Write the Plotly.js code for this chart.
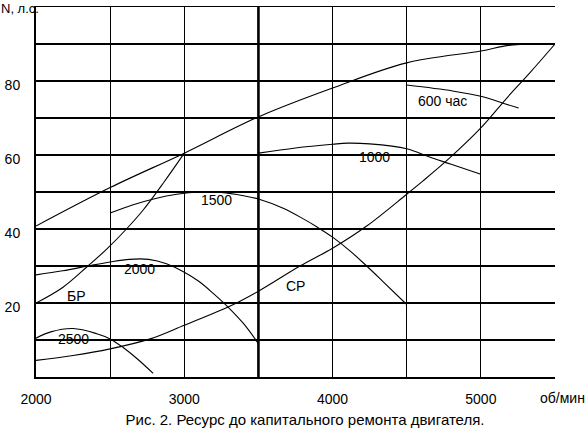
<!DOCTYPE html>
<html>
<head>
<meta charset="utf-8">
<script src="https://cdn.plot.ly/plotly-3.0.1.min.js"></script>
<style>html,body{margin:0;padding:0;background:#fff;}</style>
</head>
<body>
<div id="chart" style="width:587px;height:428px;"></div>
<script>
// ---- data ----
const xTickVals = [2000, 2500, 3000, 3500, 4000, 4500, 5000];
const xTickText = ['2000', '', '3000', '', '4000', '', '5000'];
const yTickVals = [0, 10, 20, 30, 40, 50, 60, 70, 80, 90, 100];
const yTickText = ['', '', '20', '', '40', '', '60', '', '80', '', ''];
const boundaryRpm = [3500];

const outerX = [2000, 2500, 3000, 3500, 4000, 4500, 5000, 5200, 5500];
const outerY = [40.8, 51.2, 60.5, 70.3, 78.1, 84.9, 88.1, 89.7, 90];

const h600X = [4500, 4810, 5000, 5150, 5255];
const h600Y = [78.9, 77.3, 75.9, 74.0, 72.7];

const h1000X = [3500, 3750, 4000, 4100, 4250, 4500, 4650, 4800, 5000];
const h1000Y = [60.5, 61.9, 62.9, 63.2, 63.0, 61.7, 59.5, 57.5, 54.8];

const h1500X = [2500, 2650, 2800, 2950, 3100, 3250, 3400, 3500, 3667, 3800, 3893, 4000, 4117, 4230, 4340, 4500];
const h1500Y = [44.3, 46.5, 48.2, 49.4, 50.0, 49.9, 49.0, 48.1, 45.6, 42.8, 40.6, 37.8, 34.1, 30.0, 25.8, 19.6];

const h2000X = [2000, 2180, 2350, 2500, 2630, 2760, 2880, 3000, 3100, 3195, 3295, 3400, 3500];
const h2000Y = [27.6, 28.7, 30.0, 31.1, 31.8, 31.8, 30.6, 28.3, 25.8, 22.6, 18.9, 14.4, 9.0];

const h2500X = [2000, 2100, 2250, 2410, 2500, 2590, 2680, 2790];
const h2500Y = [10.5, 12.2, 13.1, 11.7, 10.3, 7.9, 5.0, 1.0];

const brX = [2000, 2180, 2350, 2475, 2610, 2720, 2860, 3000];
const brY = [20.0, 24.2, 30.0, 34.5, 40.0, 45.0, 52.5, 60.5];

const srX = [2000, 2250, 2500, 2770, 3000, 3310, 3500, 3780, 4000, 4230, 4500, 4610, 4790, 5000, 5175, 5330, 5500];
const srY = [4.5, 5.8, 7.6, 10.3, 14.0, 19.2, 23.2, 30.0, 34.8, 40.8, 49.4, 53.0, 59.2, 67.3, 75.4, 82.2, 90.0];

const curveLabels = ['600 час', '1000', '1500', '2000', '2500', 'БР', 'СР'];
const labelX = [4738, 4286, 3220, 2701, 2256, 2276, 3753];
const labelY = [74.6, 59.5, 47.8, 29.2, 10.3, 22.0, 24.7];

const titleText = 'Рис. 2. Ресурс до капитального ремонта двигателя.';
const yAxisLabel = 'N, л.с.';
const xAxisLabel = 'об/мин';

// ---- drawing ----
const FONT = 'Liberation Sans, Arial, sans-serif';
const lineStyle = {color: '#000', width: 1.1, shape: 'spline', smoothing: 1};

function curve(x, y) {
  return {x: x, y: y, type: 'scatter', mode: 'lines', line: lineStyle, hoverinfo: 'skip', showlegend: false, cliponaxis: false};
}

const traces = [
  curve(outerX, outerY),
  curve(h600X, h600Y),
  curve(h1000X, h1000Y),
  curve(h1500X, h1500Y),
  curve(h2000X, h2000Y),
  curve(h2500X, h2500Y),
  curve(brX, brY),
  curve(srX, srY)
];

const annotations = curveLabels.map((t, i) => ({
  x: labelX[i], y: labelY[i], xref: 'x', yref: 'y', text: t, showarrow: false,
  font: {family: FONT, size: 14, color: '#000'}, xanchor: 'center', yanchor: 'middle'
}));
annotations.push({
  xref: 'paper', yref: 'paper', x: -0.0694, y: 1.019, text: yAxisLabel, showarrow: false,
  xanchor: 'left', yanchor: 'top', borderpad: 0, font: {family: FONT, size: 13, color: '#000'}
});
annotations.push({
  xref: 'paper', yref: 'paper', x: 1.0135, y: -0.057, text: xAxisLabel, showarrow: false,
  xanchor: 'center', yanchor: 'middle', font: {family: FONT, size: 14, color: '#000'}
});

const shapes = boundaryRpm.map(v => ({
  type: 'line', xref: 'x', yref: 'paper', x0: v, x1: v, y0: 0, y1: 1,
  line: {color: '#000', width: 2.6}, layer: 'below'
}));

const layout = {
  width: 587, height: 428,
  margin: {l: 36, r: 32, t: 7, b: 51, pad: 0},
  paper_bgcolor: '#fff', plot_bgcolor: '#fff',
  font: {family: FONT, size: 14, color: '#000'},
  title: {text: titleText, font: {family: FONT, size: 15, color: '#000'},
          xref: 'paper', x: (305 - 36) / 519, xanchor: 'center',
          yref: 'container', y: 1 - 420 / 428, yanchor: 'middle'},
  xaxis: {
    range: [2000, 5500], tickvals: xTickVals, ticktext: xTickText,
    showgrid: true, gridcolor: '#000', gridwidth: 1.2,
    showline: true, linecolor: '#000', linewidth: 1.5, mirror: true,
    ticks: '', ticklabelstandoff: 9, zeroline: false, fixedrange: true,
    tickfont: {family: FONT, size: 14, color: '#000'}
  },
  yaxis: {
    range: [0, 100], tickvals: yTickVals, ticktext: yTickText,
    showgrid: true, gridcolor: '#000', gridwidth: 1.2,
    showline: true, linecolor: '#000', linewidth: 2,
    ticks: '', ticklabelstandoff: 11, ticklabelshift: 4, zeroline: false, fixedrange: true,
    tickfont: {family: FONT, size: 14, color: '#000'}
  },
  showlegend: false,
  annotations: annotations,
  shapes: shapes
};

Plotly.newPlot('chart', traces, layout, {staticPlot: true, displayModeBar: false});
</script>
</body>
</html>
